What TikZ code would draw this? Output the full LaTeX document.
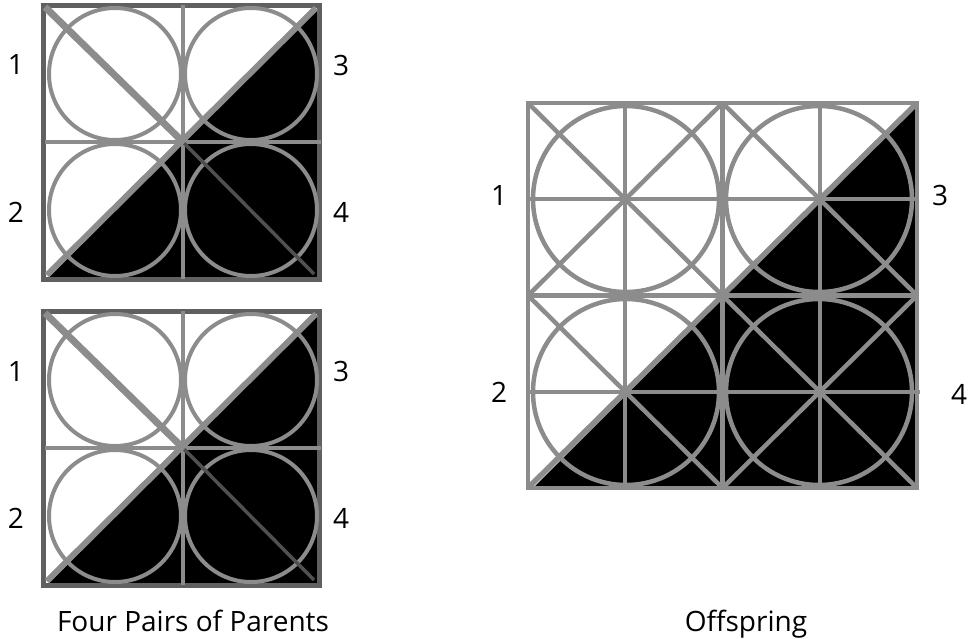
\documentclass[tikz,border=0pt]{standalone}
\usepackage{fontspec}
\setmainfont{Open Sans}
\definecolor{gr}{RGB}{140,140,140}
\definecolor{dg}{RGB}{96,96,96}
\definecolor{dg2}{RGB}{80,80,80}
\tikzset{
  lbl/.style={inner sep=0pt, font=\fontsize{28}{28}\selectfont},
  captxt/.style={inner sep=0pt, anchor=base, font=\fontsize{28}{28}\selectfont},
  gl/.style={draw=gr, line width=4pt},
  ol/.style={draw=gr, line width=4.5pt},
}
\begin{document}
\begin{tikzpicture}[x=1pt,y=-1pt]
\useasboundingbox (0,0) rectangle (968,638);
% ---------- parents ----------
\foreach \dy/\k in {0/a,306/b}{
\begin{scope}[shift={(0,\dy)}]
  \fill[black] (47,279) -- (319,279) -- (319,7) -- cycle;
  \draw[dg, line width=5pt] (43,5) rectangle (319,279);
  \draw[gl] (183,5) -- (183,279);
  \draw[gl] (45,142) -- (321,142);
  \draw[gl] (115,74) circle[radius=66pt];
  \draw[gl] (251,74) circle[radius=66pt];
  \draw[gl] (115,210) circle[radius=66pt];
  \draw[gl] (251,210) circle[radius=66pt];
  \draw[draw=gr, line width=7pt] (45,7) -- (183,142);
  \draw[draw=dg2, line width=3.5pt] (183,142) -- (314,274);
  \draw[draw=gr, line width=6pt] (47,275) -- (316,8);
  \node[lbl] (p\k1) at (16,65) {1};
  \node[lbl] (p\k2) at (16,212) {2};
  \node[lbl] (p\k3) at (341,65) {3};
  \node[lbl] (p\k4) at (341,212) {4};
\end{scope}
}
% ---------- offspring ----------
\fill[black] (533,488) -- (917,488) -- (917,104) -- cycle;
\draw[ol] (625,103) -- (625,488);
\draw[ol] (722.5,103) -- (722.5,488);
\draw[ol] (820,103) -- (820,488);
\draw[ol] (528,199) -- (917,199);
\draw[ol] (528,295.5) -- (917,295.5);
\draw[ol] (526,392) -- (920,392);
\draw[ol] (528,103) -- (917,488);
\draw[ol] (722.5,103) -- (917,295.5);
\draw[ol] (528,295.5) -- (722.5,488);
\draw[ol] (528,295.5) -- (722.5,103);
\draw[ol] (722.5,488) -- (917,295.5);
\draw[ol] (626,199) circle[radius=93pt];
\draw[ol] (819,199) circle[radius=93pt];
\draw[ol] (626,392) circle[radius=93pt];
\draw[ol] (819,392) circle[radius=93pt];
\draw[draw=gr, line width=5.5pt] (530,486) -- (915,105);
\draw[ol] (528,103) rectangle (917,488);
\node[lbl] (o1) at (499,195) {1};
\node[lbl] (o2) at (499,392) {2};
\node[lbl] (o3) at (940,195) {3};
\node[lbl] (o4) at (959,394) {4};
% ---------- captions ----------
\node[captxt] (c1) at (193,631) {Four Pairs of Parents};
\node[captxt] (c2) at (746,631) {Offspring};
\end{tikzpicture}
\end{document}
